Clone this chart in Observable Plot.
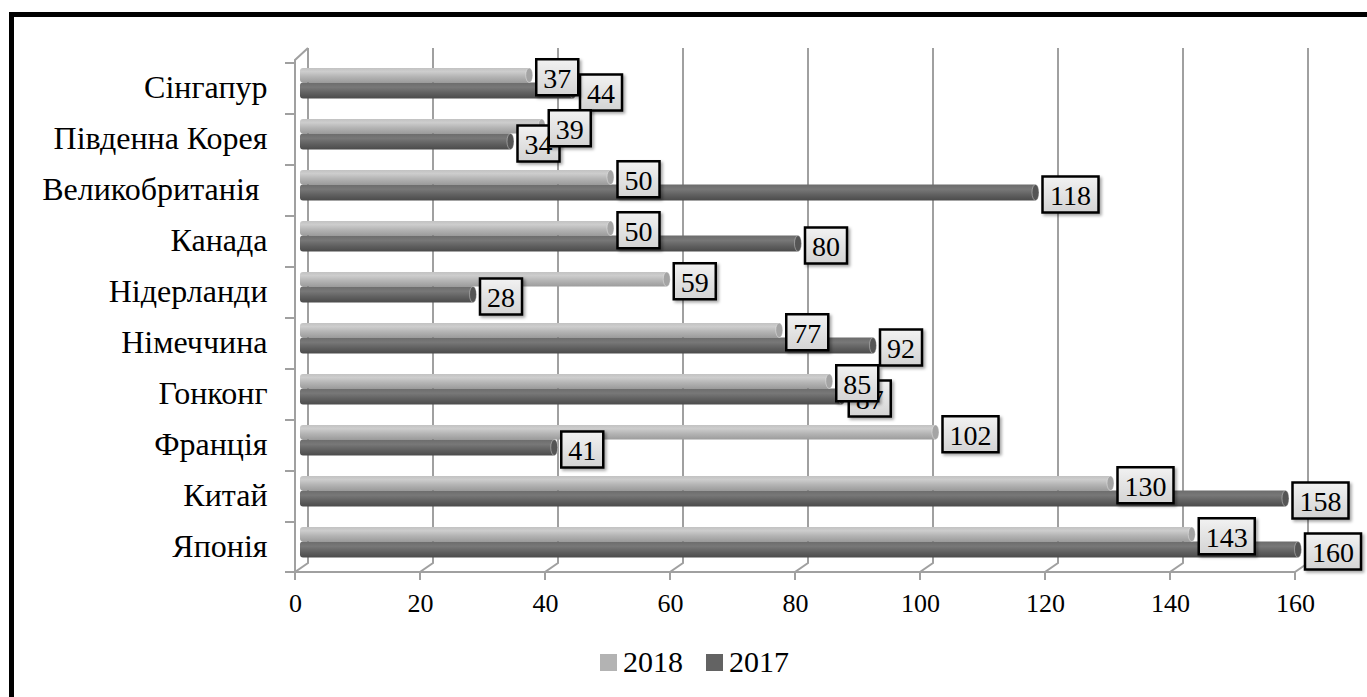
<!DOCTYPE html>
<html>
<head>
<meta charset="utf-8">
<script src="https://cdn.jsdelivr.net/npm/d3@7"></script>
<script src="https://cdn.jsdelivr.net/npm/@observablehq/plot@0.6"></script>
<style>
  html, body { margin: 0; padding: 0; background: #fff; overflow: hidden; }
  #wrap { position: relative; width: 1367px; height: 697px; overflow: hidden; background: #fff; }
  #frame { position: absolute; left: 9px; top: 12px; width: 1420px; height: 740px;
           border-left: 5px solid #000; border-top: 5px solid #000; box-sizing: border-box; }
  #chart { position: absolute; left: 0; top: 0; }
  #legend { position: absolute; left: 600px; top: 647px; display: flex; align-items: center;
            font-family: "Liberation Serif", "Times New Roman", serif; font-size: 30px; color: #000; line-height: 1; }
  #legend .item { display: flex; align-items: center; margin-right: 23px; }
  #legend .sw { width: 17px; height: 17px; display: inline-block; margin-right: 6px; }
</style>
</head>
<body>
<div id="wrap">
  <div id="frame"></div>
  <div id="chart"></div>
  <div id="legend"></div>
</div>
<script>
// Countries, top to bottom
const countries = ["Сінгапур", "Південна Корея", "Великобританія\u00a0", "Канада", "Нідерланди",
                   "Німеччина", "Гонконг", "Франція", "Китай", "Японія"];
const values2018 = [37, 39, 50, 50, 59, 77, 85, 102, 130, 143];
const values2017 = [44, 34, 118, 80, 28, 92, 87, 41, 158, 160];
const xTicks = [0, 20, 40, 60, 80, 100, 120, 140, 160];
const seriesNames = ["2018", "2017"];
const seriesColors = ["#b3b3b3", "#636363"];

const rows2018 = countries.map((c, i) => ({country: c, value: values2018[i]}));
const rows2017 = countries.map((c, i) => ({country: c, value: values2017[i]}));

const SERIF = "'Liberation Serif', 'Times New Roman', serif";
const GRID = "#a0a0a0";

// Back wall grid, floor slants, category ticks and axis line (3D look)
function frame3d(index, {x, y}) {
  const g = d3.create("svg:g").attr("fill", "none").attr("stroke", GRID).attr("stroke-width", 2);
  for (const v of xTicks) {
    const px = x(v);
    g.append("path").attr("d", `M${px + 8},48V563L${px - 5},572V580`);
  }
  const x0 = x(0) - 5;
  g.append("path").attr("d", `M${x(0) + 8},48L${x0},60V572H${x(160) - 5}`);
  const bounds = countries.map(c => y(c) + 6).concat([572]);
  for (const b of bounds) g.append("path").attr("d", `M${x0 - 10},${b}H${x0}`);
  return g.node();
}

// Rounded cylinder caps at the end of each bar
function caps(rows, top, bottom, fill) {
  return (index, {x, y}) => {
    const g = d3.create("svg:g");
    for (const r of rows) {
      const y0 = y(r.country) + top, y1 = y(r.country) + y.bandwidth() - bottom;
      g.append("ellipse")
        .attr("cx", x(r.value) - 2).attr("cy", (y0 + y1) / 2)
        .attr("rx", 3.5).attr("ry", (y1 - y0) / 2)
        .attr("fill", fill).attr("stroke", "rgba(255,255,255,0.35)").attr("stroke-width", 1);
    }
    return g.node();
  };
}

// Boxed value labels placed just right of each bar end
function boxedLabels(rows, top, bottom) {
  return (index, {x, y}) => {
    const g = d3.create("svg:g");
    for (const r of rows) {
      const yc = y(r.country) + (top + y.bandwidth() - bottom) / 2;
      const txt = String(r.value);
      const w = 14 + 14 * txt.length;
      const bx = x(r.value) + 5, by = yc - 16;
      const item = g.append("g");
      item.append("rect")
        .attr("x", bx).attr("y", by).attr("width", w).attr("height", 36)
        .attr("fill", "url(#labelFill)").attr("stroke", "#000").attr("stroke-width", 2.5)
        .attr("filter", "url(#labelShadow)");
      item.append("text")
        .attr("x", bx + w / 2).attr("y", by + 19)
        .attr("text-anchor", "middle").attr("dominant-baseline", "central")
        .attr("font-family", SERIF).attr("font-size", 28).attr("fill", "#000")
        .text(txt);
    }
    return g.node();
  };
}

// 2018 bar sits in the upper half of the band, 2017 in the lower half
const top18 = 11, bot18 = 25.5;
const top17 = 25.5, bot17 = 9.5;

const chart = Plot.plot({
  width: 1367,
  height: 630,
  marginLeft: 300,
  marginRight: 67,
  marginTop: 48,
  marginBottom: 58,
  style: {fontFamily: SERIF, fontSize: "25px", color: "#000", background: "transparent"},
  x: {domain: [0, 160], label: null},
  y: {domain: countries, range: [54, 569], padding: 0, label: null},
  marks: [
    frame3d,
    Plot.barX(rows2018, {x: "value", y: "country", fill: "url(#fill2018)", insetTop: top18, insetBottom: bot18, rx: 3}),
    Plot.barX(rows2017, {x: "value", y: "country", fill: "url(#fill2017)", insetTop: top17, insetBottom: bot17, rx: 3}),
    caps(rows2018, top18, bot18, "#a4a4a4"),
    caps(rows2017, top17, bot17, "#555555"),
    Plot.axisX(xTicks, {tickSize: 0, tickPadding: 21, dx: -5, fontSize: 26, fontFamily: SERIF, label: null}),
    Plot.axisY({tickSize: 0, tickPadding: 33, dy: 5, fontSize: 32, fontFamily: SERIF, label: null}),
    boxedLabels(rows2017, top17, bot17),
    boxedLabels(rows2018, top18, bot18)
  ]
});

// Gradients for the cylinder bars and label boxes, plus the label shadow
const svg = d3.select(chart.tagName.toLowerCase() === "svg" ? chart : chart.querySelector("svg"));
const defs = svg.insert("defs", ":first-child");
function vGrad(id, stops) {
  const lg = defs.append("linearGradient").attr("id", id).attr("x1", 0).attr("y1", 0).attr("x2", 0).attr("y2", 1);
  for (const [o, c] of stops) lg.append("stop").attr("offset", o).attr("stop-color", c);
}
vGrad("fill2018", [[0, "#c2c2c2"], [0.25, "#cdcdcd"], [0.6, "#b4b4b4"], [1, "#9c9c9c"]]);
vGrad("fill2017", [[0, "#6c6c6c"], [0.3, "#787878"], [0.65, "#606060"], [1, "#4b4b4b"]]);
vGrad("labelFill", [[0, "#f2f2f2"], [1, "#d3d3d3"]]);
const f = defs.append("filter").attr("id", "labelShadow").attr("x", "-20%").attr("y", "-20%").attr("width", "150%").attr("height", "150%");
f.append("feDropShadow").attr("dx", 2).attr("dy", 2).attr("stdDeviation", 1.8).attr("flood-color", "#000").attr("flood-opacity", 0.35);

document.getElementById("chart").appendChild(chart);

// Legend below the plot
const legend = d3.select("#legend");
seriesNames.forEach((name, i) => {
  const item = legend.append("div").attr("class", "item");
  item.append("span").attr("class", "sw").style("background", seriesColors[i]);
  item.append("span").text(name);
});
</script>
</body>
</html>
